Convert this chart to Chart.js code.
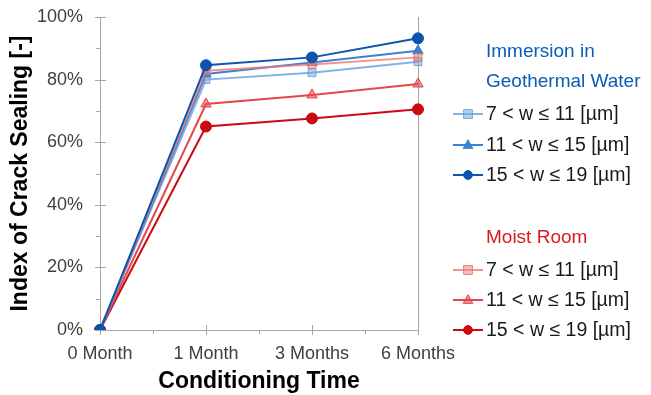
<!DOCTYPE html>
<html>
<head>
<meta charset="utf-8">
<script src="https://cdn.jsdelivr.net/npm/chart.js@4"></script>
<style>
html,body{margin:0;padding:0;background:#fff;}
#wrap{position:relative;width:651px;height:395px;}
</style>
</head>
<body>
<div id="wrap"><canvas id="c" width="651" height="395"></canvas></div>
<script>
const categories = ['0 Month', '1 Month', '3 Months', '6 Months'];
const geoSmall  = [0, 0.800, 0.822, 0.857];
const geoMid    = [0, 0.818, 0.855, 0.892];
const geoLarge  = [0, 0.846, 0.871, 0.932];
const moistSmall = [0, 0.828, 0.848, 0.871];
const moistMid   = [0, 0.722, 0.751, 0.786];
const moistLarge = [0, 0.650, 0.676, 0.705];
const seriesLabels = ['7 < w ≤ 11 [µm]', '11 < w ≤ 15 [µm]', '15 < w ≤ 19 [µm]'];
const groupTitles = [['Immersion in', 'Geothermal Water'], ['Moist Room']];
const yTickLabels = ['0%', '20%', '40%', '60%', '80%', '100%'];

const FONT = "'Liberation Sans', Arial, sans-serif";

function ds(label, data, line, fill, border, style, radius) {
  return {
    label, data,
    borderColor: line, borderWidth: 2,
    pointBackgroundColor: fill, pointBorderColor: border, pointBorderWidth: 1,
    pointStyle: style, pointRadius: radius, pointHoverRadius: radius,
    tension: 0, fill: false
  };
}

// index 0 is drawn on top
const datasets = [
  ds(seriesLabels[2], geoLarge, '#0b55ad', '#0b55ad', '#0b55ad', 'circle', 5.5),
  ds(seriesLabels[0], moistSmall, 'rgba(240,120,120,0.8)', 'rgba(240,130,130,0.5)', 'rgba(230,100,100,0.8)', 'rect', 5.5),
  ds(seriesLabels[1], geoMid, '#3a83d2', '#3a83d2', '#3a83d2', 'triangle', 6),
  ds(seriesLabels[0], geoSmall, 'rgba(110,165,222,0.85)', 'rgba(120,172,226,0.55)', 'rgba(90,150,215,0.8)', 'rect', 5.5),
  ds(seriesLabels[1], moistMid, '#e4474c', 'rgba(228,71,76,0.6)', '#e4474c', 'triangle', 6),
  ds(seriesLabels[2], moistLarge, '#cc0a12', '#cc0a12', '#cc0a12', 'circle', 5.5)
];
const legendGroups = [
  { titleColor: '#0b5cb5', titleY: [52, 82], entryY: [114, 145, 175], idx: [3, 2, 0] },
  { titleColor: '#d91920', titleY: [238], entryY: [270, 300, 330], idx: [1, 4, 5] }
];

const axisColor = '#a6a6a6';

const decor = {
  id: 'decor',
  beforeDatasetsDraw(chart) {
    const ctx = chart.ctx, a = chart.chartArea;
    const xs = chart.scales.x, ys = chart.scales.y;
    ctx.save();
    ctx.strokeStyle = axisColor; ctx.lineWidth = 1;
    ctx.beginPath();
    ctx.moveTo(Math.round(a.right) + 0.5, a.top); ctx.lineTo(Math.round(a.right) + 0.5, a.bottom);
    for (let i = 0; i <= 10; i++) {
      const y = Math.round(ys.getPixelForValue(i / 10)) + 0.5;
      if (i % 2 === 0) { ctx.moveTo(a.left - 5, y); ctx.lineTo(a.left + 6, y); }
      else { ctx.moveTo(a.left - 4, y); ctx.lineTo(a.left, y); }
    }
    for (let i = 0; i < categories.length; i++) {
      const x = Math.round(xs.getPixelForValue(i)) + 0.5;
      ctx.moveTo(x, a.bottom - 5); ctx.lineTo(x, a.bottom + 5);
      if (i < categories.length - 1) {
        const xm = Math.round((xs.getPixelForValue(i) + xs.getPixelForValue(i + 1)) / 2) + 0.5;
        ctx.moveTo(xm, a.bottom); ctx.lineTo(xm, a.bottom + 4);
      }
    }
    ctx.stroke();
    ctx.restore();
  },
  afterDraw(chart) {
    const ctx = chart.ctx;
    ctx.save();
    ctx.textBaseline = 'middle';
    ctx.textAlign = 'left';
    legendGroups.forEach((g, gi) => {
      ctx.font = '19px ' + FONT;
      ctx.fillStyle = g.titleColor;
      groupTitles[gi].forEach((t, k) => ctx.fillText(t, 486, g.titleY[k]));
      g.idx.forEach((di, k) => {
        const d = datasets[di];
        const y = g.entryY[k];
        ctx.strokeStyle = d.borderColor; ctx.lineWidth = 2;
        ctx.beginPath(); ctx.moveTo(453, y); ctx.lineTo(483, y); ctx.stroke();
        ctx.fillStyle = d.pointBackgroundColor; ctx.strokeStyle = d.pointBorderColor; ctx.lineWidth = 1;
        ctx.beginPath();
        const r = d.pointRadius * 0.8;
        if (d.pointStyle === 'circle') ctx.arc(468, y, r, 0, Math.PI * 2);
        else if (d.pointStyle === 'rect') ctx.rect(468 - r, y - r, 2 * r, 2 * r);
        else { ctx.moveTo(468, y - r * 1.1); ctx.lineTo(468 + r, y + r * 0.7); ctx.lineTo(468 - r, y + r * 0.7); ctx.closePath(); }
        ctx.fill(); ctx.stroke();
        ctx.fillStyle = '#1a1a1a';
        ctx.font = '19.5px ' + FONT;
        ctx.fillText(d.label, 486, y + 1);
      });
    });
    ctx.restore();
  }
};

new Chart(document.getElementById('c'), {
  type: 'line',
  data: { labels: categories, datasets },
  plugins: [decor],
  options: {
    responsive: false,
    animation: false,
    events: [],
    layout: { padding: { left: 7, right: 233, top: 17, bottom: 0 } },
    plugins: { legend: { display: false }, tooltip: { enabled: false } },
    scales: {
      x: {
        type: 'category',
        offset: false,
        grid: { display: true, drawOnChartArea: false, drawTicks: true, tickLength: 5, tickColor: 'rgba(0,0,0,0)' },
        border: { display: true, color: axisColor, width: 1 },
        ticks: { color: '#404040', font: { family: FONT, size: 18 }, padding: 8, maxRotation: 0, autoSkip: false },
        title: { display: true, text: 'Conditioning Time', color: '#000', font: { family: FONT, size: 23, weight: 'bold' }, padding: 0 },
        afterFit(s) { s.height = 65; s.paddingLeft = 0; s.paddingRight = 0; }
      },
      y: {
        min: 0, max: 1,
        grid: { display: true, drawOnChartArea: false, drawTicks: true, tickLength: 5, tickColor: 'rgba(0,0,0,0)' },
        border: { display: true, color: axisColor, width: 1 },
        ticks: {
          stepSize: 0.1,
          autoSkip: false,
          color: '#404040', font: { family: FONT, size: 18 }, padding: 12,
          callback(v) {
            const i = Math.round(v * 10);
            return i % 2 === 0 ? yTickLabels[i / 2] : '';
          }
        },
        title: { display: true, text: 'Index of Crack Sealing [-]', color: '#000', font: { family: FONT, size: 23, weight: 'bold' }, padding: 0 },
        afterFit(s) { s.width = 93; s.paddingTop = 0; s.paddingBottom = 0; }
      }
    }
  }
});
</script>
</body>
</html>
